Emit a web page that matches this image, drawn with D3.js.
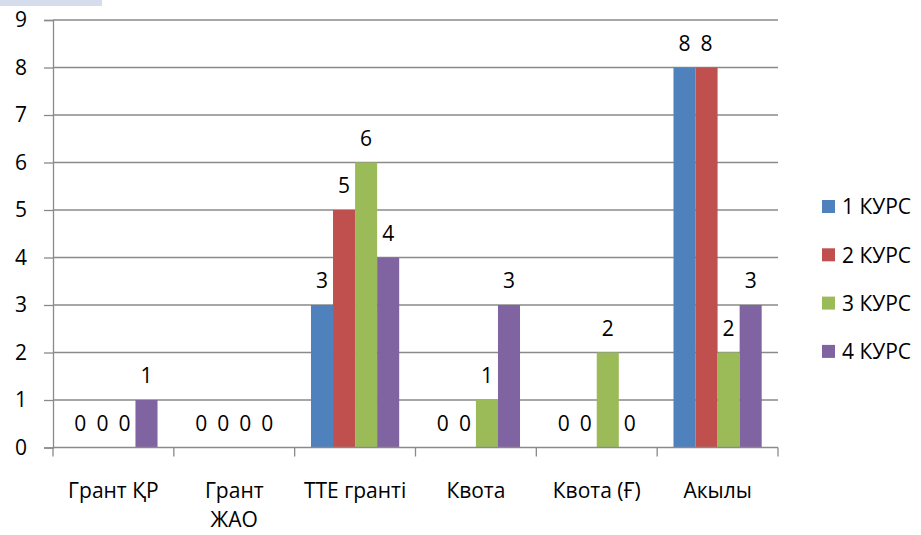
<!DOCTYPE html>
<html lang="kk">
<head>
  <meta charset="utf-8">
  <title>Курстар бойынша</title>
  <script src="https://d3js.org/d3.v7.min.js"></script>
  <style>
    body { margin: 0; background: #fff; }
    svg { display: block; font-family: "Open Sans", sans-serif; }
  </style>
</head>
<body>
<div id="chart"></div>
<script>
  // data
  const categories = ["Грант ҚР", "Грант ЖАО", "ТТЕ гранті", "Квота", "Квота (Ғ)", "Акылы"];
  const seriesNames = ["1 КУРС", "2 КУРС", "3 КУРС", "4 КУРС"];
  const kurs1 = [0, 0, 3, 0, 0, 8];
  const kurs2 = [0, 0, 5, 0, 0, 8];
  const kurs3 = [0, 0, 6, 1, 2, 2];
  const kurs4 = [1, 0, 4, 3, 0, 3];
  const yTicks = [0, 1, 2, 3, 4, 5, 6, 7, 8, 9];
  const colors = ["#4f81bd", "#c0504d", "#9bbb59", "#8064a2"];

  const allSeries = [kurs1, kurs2, kurs3, kurs4];
  const width = 921, height = 535;
  const plotLeft = 53, plotRight = 778, plotTop = 20, plotBottom = 447.5;
  const fs = 21;

  const svg = d3.select("#chart").append("svg")
    .attr("width", width)
    .attr("height", height);

  // small header strip at top left
  svg.append("rect")
    .attr("x", 0).attr("y", 0)
    .attr("width", 102).attr("height", 6)
    .attr("fill", "#d5dcec");

  const x = d3.scaleBand()
    .domain(categories)
    .range([plotLeft, plotRight])
    .paddingInner(0.27)
    .paddingOuter(0.135);

  const xs = d3.scaleBand()
    .domain(seriesNames)
    .range([0, x.bandwidth()]);

  const y = d3.scaleLinear()
    .domain([0, 9])
    .range([plotBottom, plotTop]);

  // gridlines
  svg.append("g")
    .selectAll("line")
    .data(yTicks.slice(1))
    .join("line")
    .attr("x1", plotLeft).attr("x2", plotRight)
    .attr("y1", d => y(d)).attr("y2", d => y(d))
    .attr("stroke", "#8a8a8a")
    .attr("stroke-width", 1.3);

  // y axis
  const yAxis = svg.append("g")
    .attr("transform", `translate(${plotLeft},0)`)
    .call(d3.axisLeft(y).tickValues(yTicks).tickSize(9).tickPadding(17));
  yAxis.select(".domain").attr("stroke", "#8a8a8a").attr("stroke-width", 1.3);
  yAxis.selectAll(".tick line").attr("stroke", "#8a8a8a").attr("stroke-width", 1.3);
  yAxis.selectAll(".tick text")
    .attr("font-size", fs)
    .attr("font-family", "Open Sans, sans-serif")
    .attr("fill", "#000");

  // bars
  const groups = svg.append("g")
    .selectAll("g")
    .data(categories)
    .join("g")
    .attr("transform", d => `translate(${x(d)},0)`);

  groups.selectAll("rect")
    .data((c, i) => seriesNames.map((s, j) => ({ s, v: allSeries[j][i], j })))
    .join("rect")
    .attr("x", d => xs(d.s))
    .attr("y", d => y(d.v))
    .attr("width", xs.bandwidth())
    .attr("height", d => y(0) - y(d.v))
    .attr("fill", d => colors[d.j]);

  // value labels
  groups.selectAll("text")
    .data((c, i) => seriesNames.map((s, j) => ({ s, v: allSeries[j][i], j })))
    .join("text")
    .attr("x", d => xs(d.s) + xs.bandwidth() / 2)
    .attr("y", d => y(d.v) - 24)
    .attr("dy", "0.35em")
    .attr("text-anchor", "middle")
    .attr("font-size", fs)
    .attr("fill", "#000")
    .text(d => d.v);

  // x axis line and category ticks
  svg.append("line")
    .attr("x1", plotLeft).attr("x2", plotRight)
    .attr("y1", plotBottom).attr("y2", plotBottom)
    .attr("stroke", "#8a8a8a").attr("stroke-width", 1.3);

  const step = x.step();
  svg.append("g")
    .selectAll("line")
    .data(d3.range(categories.length + 1))
    .join("line")
    .attr("x1", i => plotLeft + i * step).attr("x2", i => plotLeft + i * step)
    .attr("y1", plotBottom).attr("y2", plotBottom + 9)
    .attr("stroke", "#8a8a8a").attr("stroke-width", 1.3);

  // category labels, wrapped like the original
  const catLines = { "Грант ЖАО": ["Грант", "ЖАО"] };
  svg.append("g")
    .selectAll("text")
    .data(categories)
    .join("text")
    .attr("y", 491)
    .attr("text-anchor", "middle")
    .attr("font-size", fs)
    .attr("fill", "#000")
    .each(function (d) {
      const lines = catLines[d] || [d];
      d3.select(this).selectAll("tspan")
        .data(lines)
        .join("tspan")
        .attr("x", x(d) + x.bandwidth() / 2)
        .attr("dy", (l, i) => i === 0 ? "0.35em" : 29)
        .text(l => l);
    });

  // legend
  const legend = svg.append("g")
    .selectAll("g")
    .data(seriesNames)
    .join("g")
    .attr("transform", (d, i) => `translate(822,${207 + i * 48.3})`);
  legend.append("rect")
    .attr("x", 0).attr("y", -7)
    .attr("width", 13).attr("height", 13)
    .attr("fill", (d, i) => colors[i]);
  legend.append("text")
    .attr("x", 20).attr("y", 0)
    .attr("dy", "0.35em")
    .attr("font-size", fs)
    .attr("fill", "#000")
    .text(d => d);
</script>
</body>
</html>
